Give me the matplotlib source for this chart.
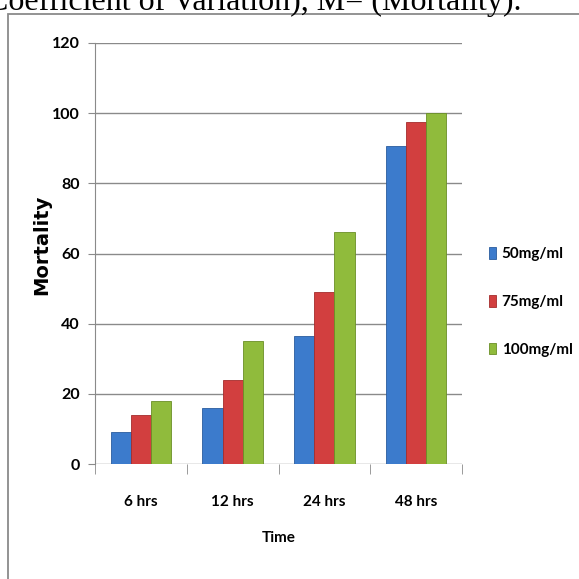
import numpy as np
import matplotlib
matplotlib.use("Agg")
import matplotlib.pyplot as plt
from matplotlib.patches import Rectangle

times = ["6 hrs", "12 hrs", "24 hrs", "48 hrs"]
doses = ["50mg/ml", "75mg/ml", "100mg/ml"]
mort_50 = [9, 16, 36.5, 90.5]
mort_75 = [14, 24, 49, 97.5]
mort_100 = [18, 35, 66, 100]
yticks = [0, 20, 40, 60, 80, 100, 120]

colors = ["#3c7bcc", "#d23f3f", "#90bb3c"]
edges = ["#2a5c9e", "#a52c2c", "#6a8f26"]
narrow = ["Lato", "DejaVu Sans"]

fig = plt.figure(figsize=(5.79, 5.79), dpi=100)
fig.patch.set_facecolor("white")

# caption text cut off at top of the page
fig.text(-0.022, 0.983, "Coefficient of Variation), M= (Mortality).",
         family="Liberation Serif", fontsize=23, va="baseline", ha="left")
# chart frame
fig.patches.append(Rectangle((8 / 579, -0.1), 1.2, 1 - 14 / 579 + 0.1,
                             transform=fig.transFigure, fill=False,
                             edgecolor="#8a8a8a", linewidth=1.3))

ax = fig.add_axes([95 / 579, 1 - 464 / 579, 367 / 579, 421 / 579])
x = np.arange(len(times))
w = 0.22
for i, vals in enumerate([mort_50, mort_75, mort_100]):
    ax.bar(x + (i - 1) * w, vals, w, color=colors[i], edgecolor=edges[i],
           linewidth=0.6, label=doses[i], zorder=3)

ax.set_xlim(-0.5, len(times) - 0.5)
ax.set_ylim(0, 120)
ax.set_yticks(yticks)
ax.set_yticklabels([str(t) for t in yticks], family=narrow,
                   fontweight="bold", fontsize=11.5)
ax.set_xticks(x)
ax.set_xticklabels(times, family=narrow, fontweight="bold", fontsize=11)
ax.set_xticks(np.arange(len(times) + 1) - 0.5, minor=True)
ax.tick_params(axis="x", which="major", length=0, pad=22)
ax.tick_params(axis="x", which="minor", length=7, color="#8a8a8a", direction="out")
ax.tick_params(axis="y", length=5, color="#8a8a8a", pad=6)
ax.grid(axis="y", color="#8a8a8a", linewidth=1.0, zorder=0)
for s in ["top", "right", "bottom"]:
    ax.spines[s].set_visible(False)
ax.spines["left"].set_color("#8a8a8a")

ax.set_ylabel("Mortality", family="DejaVu Sans", fontweight="bold", fontsize=14)
ax.yaxis.set_label_coords(-0.12, 0.52)
ax.set_xlabel("Time", family=narrow, fontweight="bold", fontsize=11, labelpad=16)

leg = ax.legend(loc="center left", bbox_to_anchor=(1.035, 0.385), frameon=False,
                prop={"family": narrow, "size": 11, "weight": "bold"},
                handlelength=0.5, handleheight=0.8, handletextpad=0.35,
                labelspacing=2.2)

fig.savefig("out.png", dpi=100)
